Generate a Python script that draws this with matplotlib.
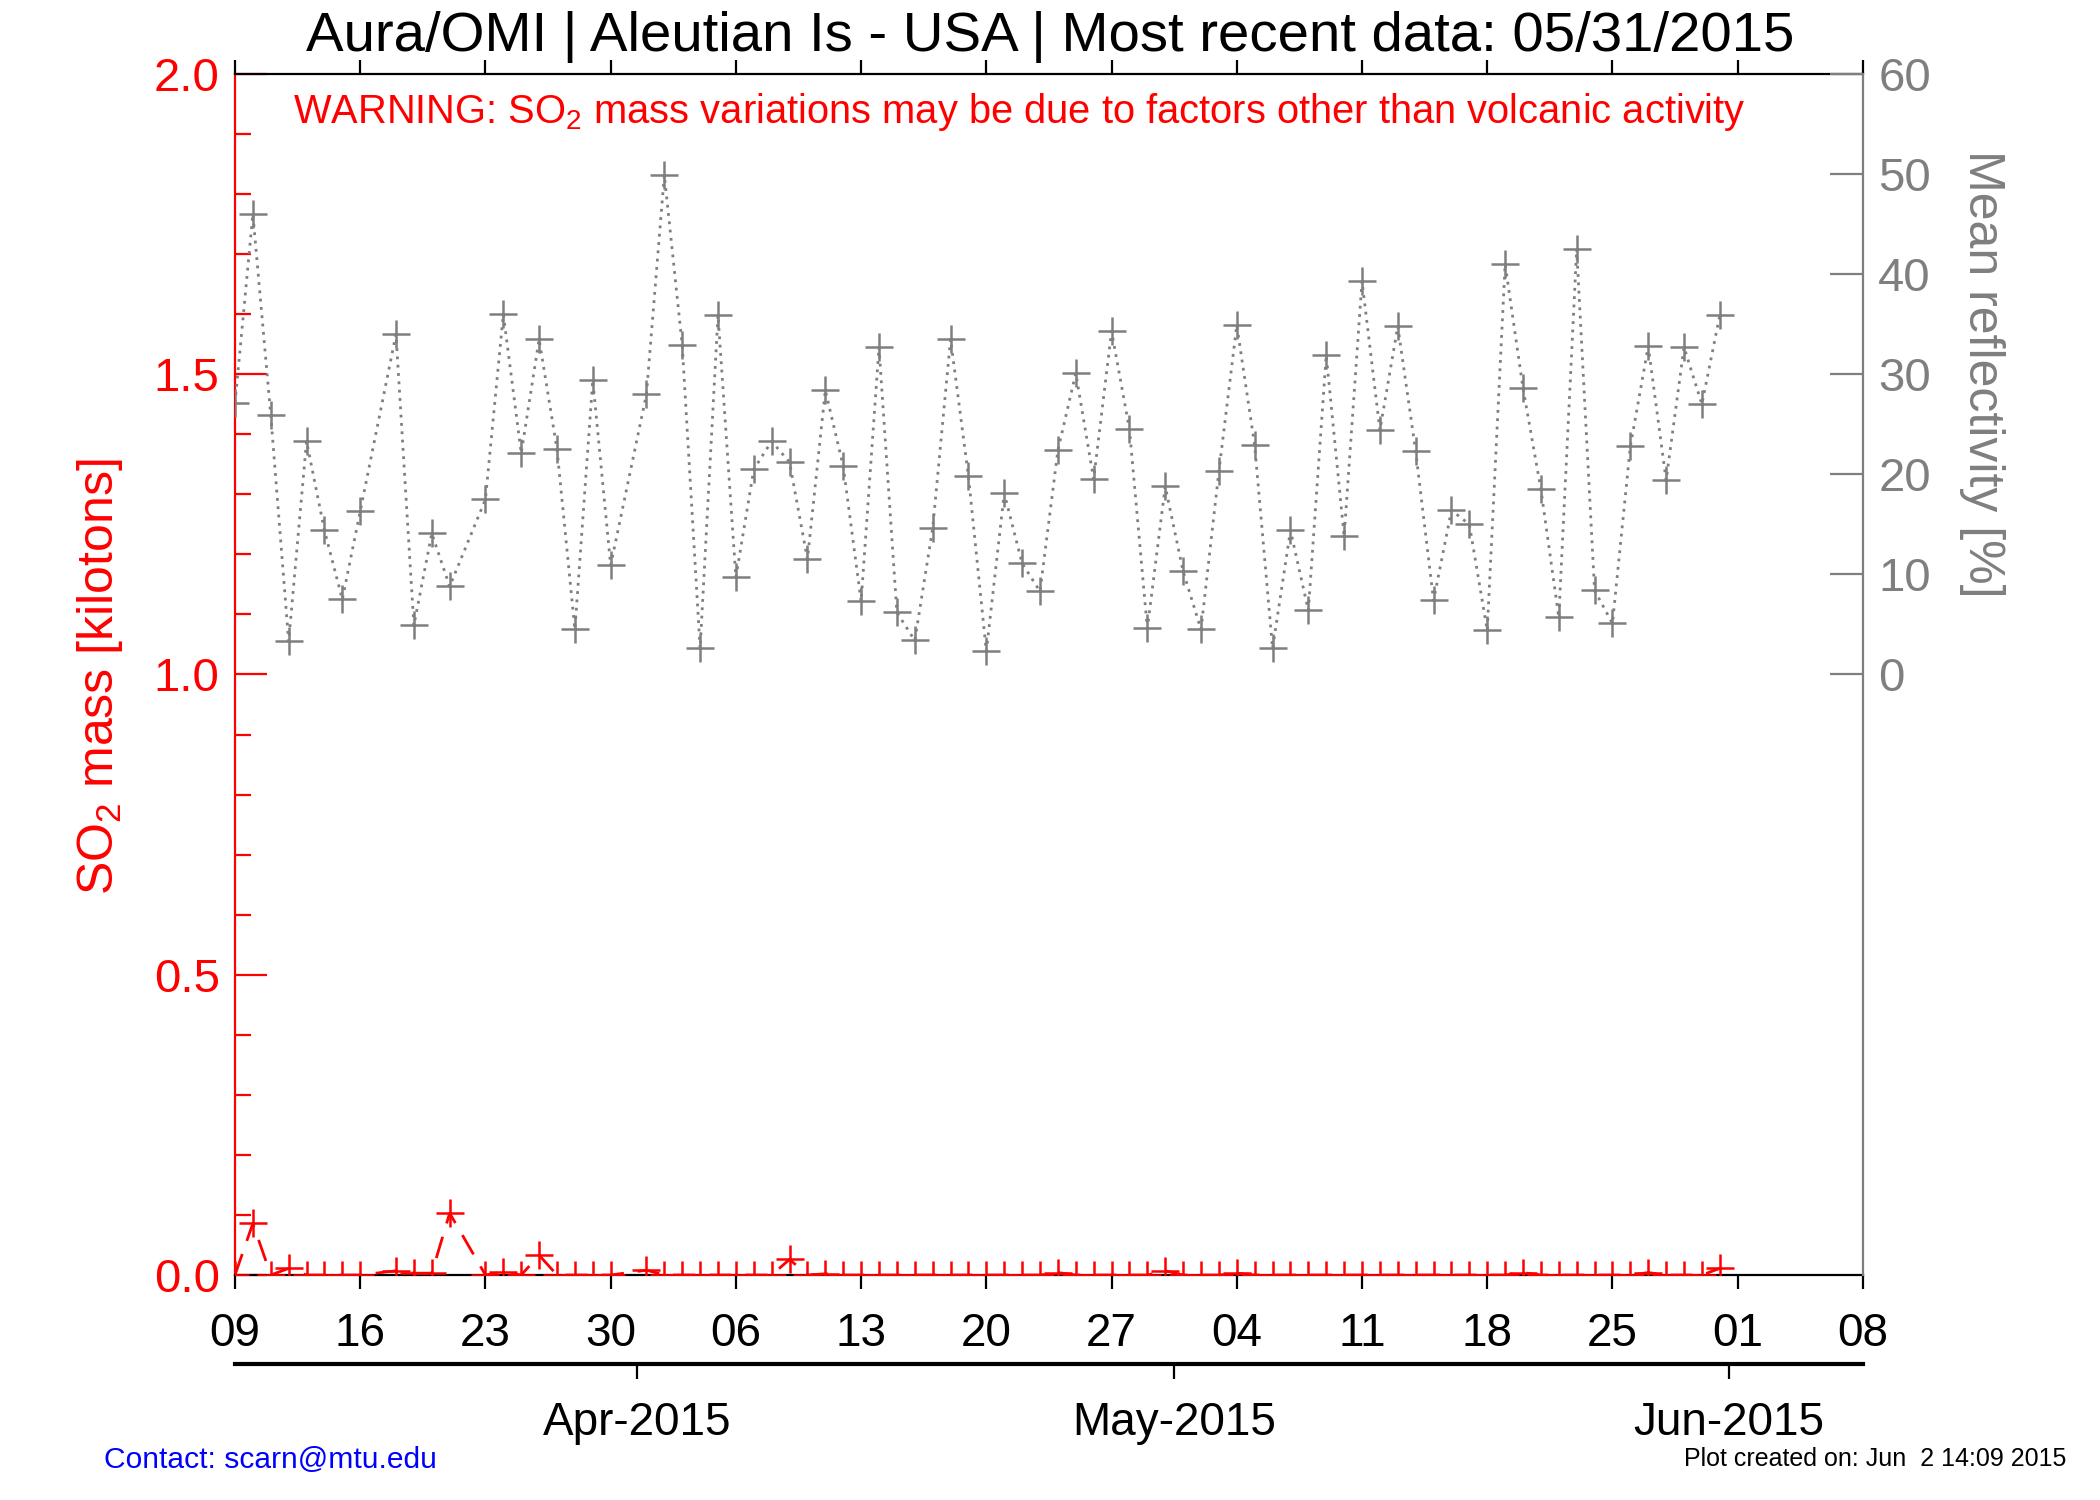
import numpy as np
import matplotlib
matplotlib.use("Agg")
import matplotlib.pyplot as plt
import matplotlib.dates as mdates
from matplotlib.ticker import MultipleLocator, FixedLocator
from datetime import datetime, timedelta

plt.rcParams['font.family'] = ['Liberation Sans', 'DejaVu Sans']
plt.rcParams['mathtext.fontset'] = 'custom'
plt.rcParams['mathtext.rm'] = 'Liberation Sans'
plt.rcParams['mathtext.it'] = 'Liberation Sans:italic'
plt.rcParams['mathtext.bf'] = 'Liberation Sans:bold'

# observation days (no data on Mar 17, Mar 22, Mar 31)
mar_days = [9, 10, 11, 12, 13, 14, 15, 16, 18, 19, 20, 21, 23, 24, 25, 26, 27, 28, 29, 30]
apr_days = list(range(1, 31))
may_days = list(range(1, 32))

# SO2 mass [kt]
so2_mar = [0, 0.086, 0, 0.011, 0, 0, 0, 0, 0.007, 0.003, 0.003, 0.103,
           0, 0.005, 0, 0.033, 0, 0, 0, 0]
so2_apr = [0.008, 0, 0, 0, 0, 0, 0, 0, 0.026, 0, 0.002, 0, 0, 0, 0,
           0, 0, 0, 0, 0, 0, 0, 0, 0.004, 0, 0, 0, 0, 0, 0.007]
so2_may = [0, 0, 0, 0.003, 0, 0, 0, 0, 0, 0, 0, 0, 0, 0, 0, 0,
           0, 0, 0, 0.004, 0, 0, 0, 0, 0, 0, 0.004, 0, 0, 0, 0.011]

# mean reflectivity [%]
refl_mar = [27.1, 46.0, 25.9, 3.3, 23.3, 14.4, 7.5, 16.3, 34.0, 4.9, 14.1, 8.8,
            17.5, 36.0, 22.1, 33.5, 22.5, 4.5, 29.4, 10.9]
refl_apr = [28.0, 49.9, 32.9, 2.6, 35.9, 9.7, 20.5, 23.3, 21.2, 11.5, 28.4, 20.8,
            7.3, 32.7, 6.2, 3.4, 14.6, 33.5, 19.8, 2.3, 18.1, 11.1, 8.3, 22.4,
            30.1, 19.5, 34.3, 24.5, 4.6, 18.8]
refl_may = [10.3, 4.5, 20.3, 34.9, 22.9, 2.6, 14.4, 6.4, 31.9, 13.8, 39.3, 24.4,
            34.8, 22.3, 7.4, 16.4, 15.0, 4.4, 41.0, 28.6, 18.5, 5.7, 42.5, 8.4,
            5.1, 22.8, 32.8, 19.4, 32.7, 27.0, 35.9]

dates = ([datetime(2015, 3, d) for d in mar_days] +
         [datetime(2015, 4, d) for d in apr_days] +
         [datetime(2015, 5, d) for d in may_days])
so2 = np.array(so2_mar + so2_apr + so2_may)
refl = np.array(refl_mar + refl_apr + refl_may)
x = mdates.date2num(dates)

RED = '#ff0000'
GRAY = '#7f7f7f'

fig = plt.figure(figsize=(10.5, 7.5), dpi=200)
ax = fig.add_axes([0.1119, 0.15, 0.7752, 0.8007])

ax.plot(x, so2, color=RED, lw=1.0, ls=(0, (8, 5)), marker='+', ms=10, mew=0.9, zorder=3)
ax.set_ylim(0, 2.0)
ax.set_xlim(mdates.date2num(datetime(2015, 3, 9)), mdates.date2num(datetime(2015, 6, 8)))

ax.yaxis.set_major_locator(MultipleLocator(0.5))
ax.yaxis.set_minor_locator(MultipleLocator(0.1))
ax.yaxis.set_major_formatter(matplotlib.ticker.FormatStrFormatter('%.1f'))
ax.tick_params(axis='y', which='major', direction='in', length=11.5, width=0.8,
               colors=RED, labelsize=17, pad=5.5)
ax.tick_params(axis='y', which='minor', direction='in', length=5.8, width=0.8, colors=RED)

weeks = mdates.drange(datetime(2015, 3, 9), datetime(2015, 6, 9), timedelta(days=7))
ax.xaxis.set_major_locator(FixedLocator(weeks))
ax.xaxis.set_major_formatter(mdates.DateFormatter('%d'))
ax.tick_params(axis='x', which='major', direction='out', length=5, width=0.8,
               colors='black', labelsize=16.5, pad=8.5, top=True)

ax.spines['left'].set_color(RED)
ax.spines['left'].set_linewidth(0.8)
ax.spines['right'].set_visible(False)
ax.spines['top'].set_linewidth(0.8)
ax.spines['bottom'].set_linewidth(0.8)

ax2 = ax.twinx()
ax2.plot(x, refl, color=GRAY, lw=1.0, ls=(0, (1, 2)), marker='+', ms=10, mew=0.9)
ax2.set_ylim(-60, 60)
ax2.yaxis.set_major_locator(FixedLocator([0, 10, 20, 30, 40, 50, 60]))
ax2.tick_params(axis='y', direction='in', length=12, width=0.8, colors=GRAY,
                labelsize=17, pad=5.5)
for s in ['left', 'top', 'bottom']:
    ax2.spines[s].set_visible(False)
ax2.spines['right'].set_color(GRAY)
ax2.spines['right'].set_linewidth(0.8)

# month axis below the day axis (ticks sit half a day before each month start)
month_starts = [datetime(2015, 4, 1), datetime(2015, 5, 1), datetime(2015, 6, 1)]
months = mdates.date2num(month_starts) - 0.5
month_labels = [d.strftime('%b-%Y') for d in month_starts]
sec = ax.secondary_xaxis(-0.074)
sec.set_xticks(months, month_labels)
sec.tick_params(direction='out', length=5.4, width=0.8, labelsize=16.5, pad=8)
sec.spines['bottom'].set_linewidth(1.5)

fig.text(0.5, 0.966, 'Aura/OMI | Aleutian Is - USA | Most recent data: 05/31/2015',
         ha='center', va='baseline', fontsize=20.3)
fig.text(0.1395, 0.918,
         'WARNING: SO$_2$ mass variations may be due to factors other than volcanic activity',
         ha='left', va='baseline', fontsize=14.35, color=RED)
fig.text(0.0476, 0.549, 'SO$_2$ mass [kilotons]', rotation=90, ha='center', va='center',
         fontsize=18, color=RED)
fig.text(0.944, 0.751, 'Mean reflectivity [%]', rotation=270, ha='center', va='center',
         fontsize=18, color=GRAY)
fig.text(0.0495, 0.027, 'Contact: scarn@mtu.edu', ha='left', va='center',
         fontsize=10.8, color='#0000ff')
fig.text(0.984, 0.027, 'Plot created on: Jun  2 14:09 2015', ha='right', va='center',
         fontsize=9, color='black')

fig.savefig('out.png', dpi=200)
